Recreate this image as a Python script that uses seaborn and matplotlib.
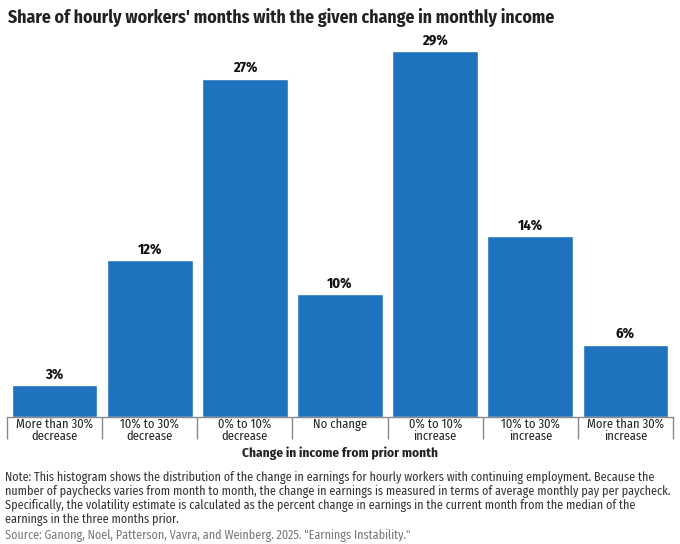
import numpy as np
import pandas as pd
import matplotlib
matplotlib.use('Agg')
import matplotlib.pyplot as plt
import seaborn as sns

categories = ['More than 30%\ndecrease', '10% to 30%\ndecrease', '0% to 10%\ndecrease',
              'No change', '0% to 10%\nincrease', '10% to 30%\nincrease', 'More than 30%\nincrease']
shares = [2.5, 12.4, 26.8, 9.7, 29.0, 14.3, 5.7]
value_labels = ['3%', '12%', '27%', '10%', '29%', '14%', '6%']

title = "Share of hourly workers' months with the given change in monthly income"
xlabel = 'Change in income from prior month'
note = ("Note: This histogram shows the distribution of the change in earnings for hourly workers with continuing employment. Because the\n"
        "number of paychecks varies from month to month, the change in earnings is measured in terms of average monthly pay per paycheck.\n"
        "Specifically, the volatility estimate is calculated as the percent change in earnings in the current month from the median of the\n"
        "earnings in the three months prior.")
source = 'Source: Ganong, Noel, Patterson, Vavra, and Weinberg. 2025. "Earnings Instability."'

sns.set_theme(style='white')
plt.rcParams['font.family'] = ['Fira Sans Condensed', 'DejaVu Sans']

df = pd.DataFrame({'cat': categories, 'share': shares})

fig = plt.figure(figsize=(6.8, 5.44), dpi=100)
ax = fig.add_axes([0.0103, 0.234, 0.9794, 0.695])
sns.barplot(data=df, x='cat', y='share', color='#1f72bd', saturation=1, width=0.9, ax=ax)

for i, (v, lab) in enumerate(zip(shares, value_labels)):
    ax.text(i, v + 0.3, lab, ha='center', va='bottom', fontsize=10.5, fontweight='bold', color='#111111')

ax.set_xlim(-0.5, len(categories) - 0.5)
ax.set_ylim(0, 30)
ax.set_yticks([])
ax.set_ylabel('')
ax.set_xlabel('')
for s in ['top', 'right', 'left']:
    ax.spines[s].set_visible(False)
ax.spines['bottom'].set_color('#888888')
ax.spines['bottom'].set_linewidth(1)

ax.set_xticks(np.arange(len(categories)))
ax.set_xticklabels(categories, fontsize=9, color='#222222', linespacing=0.95)
ax.set_xticks(np.arange(len(categories) + 1) - 0.5, minor=True)
ax.tick_params(axis='x', which='major', length=0, pad=1)
ax.tick_params(axis='x', which='minor', length=15.5, width=1, color='#888888', bottom=True)

fig.text(0.5, 0.166, xlabel, ha='center', va='center', fontsize=9.6, fontweight='bold', color='#222222')
fig.text(0.012, 0.985, title, ha='left', va='top', fontsize=12.8, fontweight='bold', color='#222222')
fig.text(0.007, 0.134, note, ha='left', va='top', fontsize=8.7, color='#333333', linespacing=1.1)
fig.text(0.007, 0.016, source, ha='left', va='center', fontsize=8.7, color='#777777')

fig.savefig('out.png', dpi=100)
